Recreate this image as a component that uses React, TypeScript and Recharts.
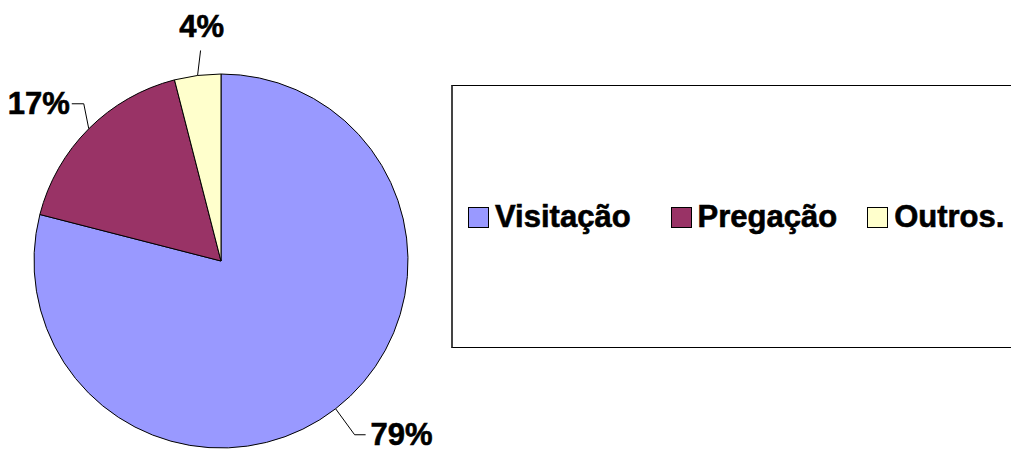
import { PieChart, Pie, Cell, Legend } from 'recharts';

const categories = ['Visitação', 'Pregação', 'Outros.'];
const shares = [79, 17, 4];
const colors = ['#9999FF', '#993366', '#FFFFCC'];
// elbow of each leader line, relative to the slice edge point
const labelNudges = [
  { dx: 19, dy: 26 },
  { dx: -5, dy: -25 },
  { dx: 3, dy: -25 }
];
const legendGaps = [40, 30, 0];

const data = categories.map((name, i) => ({ name, value: shares[i] }));

const RAD = Math.PI / 180;
const FONT = '"Liberation Sans", Arial, sans-serif';
const SIZE = 31;

const renderLabel = (props: any) => {
  const { cx, cy, midAngle, outerRadius, percent, index } = props;
  const ex = cx + outerRadius * Math.cos(-midAngle * RAD);
  const ey = cy + outerRadius * Math.sin(-midAngle * RAD);
  const n = labelNudges[index];
  const bx = ex + n.dx;
  const by = ey + n.dy;
  const text = `${Math.round(percent * 100)}%`;
  const textProps = {
    fontFamily: FONT,
    fontWeight: 'bold' as const,
    fontSize: SIZE,
    fill: '#000',
    stroke: '#000',
    strokeWidth: 0.6
  };
  if (index === 2) {
    return (
      <g key={`l-${index}`}>
        <polyline points={`${ex},${ey} ${bx},${by}`} fill="none" stroke="#000" strokeWidth={1} />
        <text x={bx + 1} y={by - 13} textAnchor="middle" {...textProps}>
          {text}
        </text>
      </g>
    );
  }
  const right = n.dx > 0;
  const hx = right ? bx + 11 : bx - 12;
  return (
    <g key={`l-${index}`}>
      <polyline points={`${ex},${ey} ${bx},${by} ${hx},${by}`} fill="none" stroke="#000" strokeWidth={1} />
      <text x={right ? hx + 5 : hx - 2} y={by + 10} textAnchor={right ? 'start' : 'end'} {...textProps}>
        {text}
      </text>
    </g>
  );
};

const LegendBox = () => (
  <div
    style={{
      position: 'absolute',
      left: 451,
      top: 85,
      width: 620,
      height: 263,
      border: '1px solid #000',
      borderLeft: '2px solid #444',
      boxSizing: 'border-box',
      background: '#fff',
      display: 'flex',
      alignItems: 'center',
      paddingLeft: 15,
      paddingTop: 1,
      fontFamily: FONT,
      fontWeight: 'bold',
      fontSize: SIZE,
      color: '#000',
      WebkitTextStroke: '0.6px #000'
    }}
  >
    {categories.map((name, i) => (
      <div key={name} style={{ display: 'flex', alignItems: 'center', marginRight: legendGaps[i] }}>
        <span
          style={{
            display: 'inline-block',
            width: 21,
            height: 21,
            background: colors[i],
            border: '1px solid #000',
            boxSizing: 'border-box',
            marginRight: 6,
            WebkitTextStroke: '0'
          }}
        />
        <span style={{ whiteSpace: 'nowrap' }}>{name}</span>
      </div>
    ))}
  </div>
);

const App = () => (
  <div style={{ position: 'absolute', left: 0, top: 0, width: 1011, height: 452, overflow: 'hidden', background: '#fff' }}>
    <PieChart width={1011} height={452} margin={{ top: 0, right: 0, bottom: 0, left: 0 }}>
      <Pie
        data={data}
        dataKey="value"
        nameKey="name"
        cx={221}
        cy={261}
        outerRadius={187}
        startAngle={90}
        endAngle={-270}
        stroke="#000"
        strokeWidth={1}
        label={renderLabel}
        labelLine={false}
        isAnimationActive={false}
      >
        {data.map((entry, i) => (
          <Cell key={entry.name} fill={colors[i]} />
        ))}
      </Pie>
      <Legend content={() => null} />
    </PieChart>
    <LegendBox />
  </div>
);

export default App;
